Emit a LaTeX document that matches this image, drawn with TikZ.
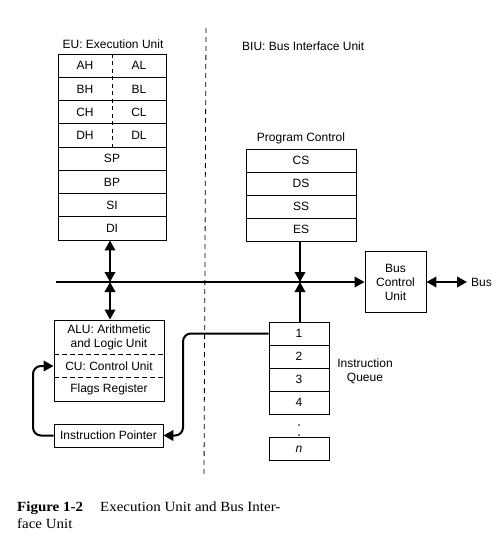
\documentclass[tikz,border=0pt]{standalone}
\usepackage{fontspec}
\setmainfont{Liberation Sans}
\newfontfamily\capfont[FakeStretch=1.07]{Liberation Serif}
\usetikzlibrary{arrows.meta}
\begin{document}
\begin{tikzpicture}[x=1pt,y=-1pt,
  txt/.style={inner sep=0pt, font=\fontsize{12}{14}\selectfont},
  reg/.style={draw, line width=0.9pt, minimum width=108pt, minimum height=23.25pt, inner sep=0pt, font=\fontsize{12}{14}\selectfont},
  seg/.style={draw, line width=0.9pt, minimum width=110pt, minimum height=23pt, inner sep=0pt, font=\fontsize{12}{14}\selectfont},
  qbox/.style={draw, line width=0.9pt, minimum width=60pt, minimum height=23pt, inner sep=0pt, font=\fontsize{12}{14}\selectfont},
  tip/.tip={Triangle[length=10pt,width=10.5pt]},
  dbl/.style={line width=2pt, tip-tip},
  one/.style={line width=2pt, -tip},
  capstyle/.style={inner sep=0pt, anchor=base west, font=\capfont\fontsize{14}{18}\selectfont}
]
\useasboundingbox (0,0) rectangle (500,543);

% divider
\draw[line width=0.8pt, dash pattern=on 5pt off 4pt] (206,28) -- (204,478);

% EU
\node[txt] (eut) at (113,44) {EU: Execution Unit};
\node[reg] (rA) at (112,65.6) {};
\node[reg] (rB) at (112,88.9) {};
\node[reg] (rC) at (112,112.1) {};
\node[reg] (rD) at (112,135.4) {};
\node[reg] (SP) at (112,158.6) {SP};
\node[reg] (BP) at (112,181.9) {BP};
\node[reg] (SI) at (112,205.1) {SI};
\node[reg] (DI) at (112,228.4) {DI};
\draw[line width=0.8pt, dash pattern=on 4pt off 3.5pt] (rA.north) -- (rD.south);
\node[txt] (AH) at (85,65.6) {AH};
\node[txt] (AL) at (139,65.6) {AL};
\node[txt] (BH) at (85,88.9) {BH};
\node[txt] (BL) at (139,88.9) {BL};
\node[txt] (CH) at (85,112.1) {CH};
\node[txt] (CL) at (139,112.1) {CL};
\node[txt] (DH) at (85,135.4) {DH};
\node[txt] (DL) at (139,135.4) {DL};

% BIU
\node[txt, anchor=west] (biut) at (242,46) {BIU: Bus Interface Unit};
\node[txt] (pct) at (301,138) {Program Control};
\node[seg] (CS) at (301,160.5) {CS};
\node[seg] (DS) at (301,183.5) {DS};
\node[seg] (SS) at (301,206.5) {SS};
\node[seg] (ES) at (301,229.5) {ES};

% Bus control unit
\node[draw, line width=0.9pt, minimum width=61pt, minimum height=61pt, inner sep=0pt, align=center,
      font=\fontsize{12}{14}\selectfont] (BCU) at (395.5,282) {Bus\\Control\\Unit};
\coordinate (busL) at (56,282);
\coordinate (j1) at (110,282);
\coordinate (j2) at (300,282);
\coordinate (busE) at (467,282);
\node[txt, anchor=west] (bus) at (471,282) {Bus};
\draw[line width=2pt, -tip] (busL) -- (BCU.west);
\draw[dbl] (BCU.east) -- (busE);

% ALU block
\node[draw, line width=0.9pt, minimum width=110pt, minimum height=81pt, inner sep=0pt] (ALU) at (109,360.5) {};
\node[txt, align=center, font=\fontsize{12}{14}\selectfont] (alut) at (109,337.5) {ALU: Arithmetic\\and Logic Unit};
\node[txt] (CU) at (109,366) {CU: Control Unit};
\node[txt] (FR) at (109,389.5) {Flags Register};
\draw[line width=0.8pt, dash pattern=on 5pt off 3pt] (54,354) -- (164,354);
\draw[line width=0.8pt, dash pattern=on 5pt off 3pt] (54,377.5) -- (164,377.5);
\node[draw, line width=0.9pt, minimum width=109pt, minimum height=23pt, inner sep=0pt,
      font=\fontsize{12}{14}\selectfont] (IP) at (108.5,435.5) {Instruction Pointer};

% Queue
\node[qbox] (q1) at (299,333.5) {1};
\node[qbox] (q2) at (299,356.5) {2};
\node[qbox] (q3) at (299,379.5) {3};
\node[qbox] (q4) at (299,402.5) {4};
\node[qbox] (qn) at (299,449) {\itshape n};
\fill (299,425) circle (0.9pt);
\fill (299,435) circle (0.9pt);
\node[txt, align=center, font=\fontsize{12}{14}\selectfont] (iqt) at (365,371) {Instruction\\Queue};

% connectors
\draw[dbl] (j1 |- DI.south) -- (j1);
\draw[dbl] (j1) -- (j1 |- ALU.north);
\draw[one] (j2 |- ES.south) -- (j2);
\draw[one] (j2 |- q1.north) -- (j2);
\draw[one, rounded corners=8pt] (q1.west) -- (183,333.5) -- (183,435.5) -- (IP.east);
\draw[one, rounded corners=8pt] (IP.west) -- (33,435.5) -- (33,366) -- (ALU.west |- CU);

% caption
\node[capstyle] (c1) at (17,511) {\bfseries Figure 1-2};
\node[capstyle] (c2) at (100,511) {Execution Unit and Bus Inter-};
\node[capstyle] (c3) at (17,528.5) {face Unit};
\end{tikzpicture}
\end{document}
